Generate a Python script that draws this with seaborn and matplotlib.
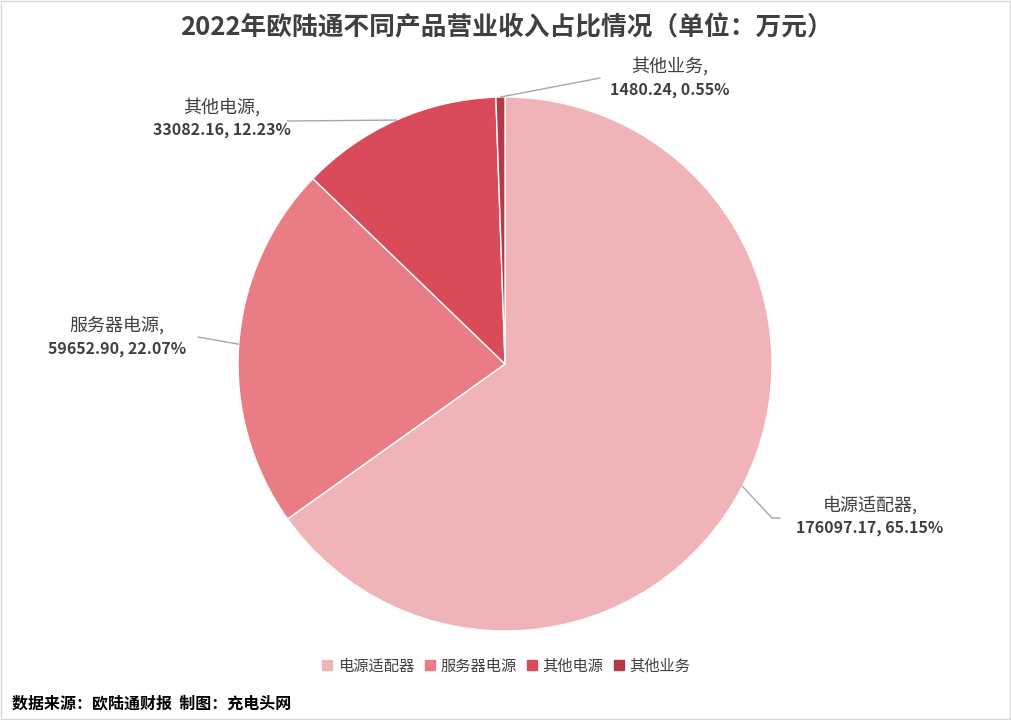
import numpy as np
import matplotlib.pyplot as plt
import matplotlib.patches as mpatches
from matplotlib.lines import Line2D
import seaborn as sns

sns.set_theme(style="white")
plt.rcParams['font.family'] = ['Noto Sans CJK SC', 'DejaVu Sans']

# data
products = ["电源适配器", "服务器电源", "其他电源", "其他业务"]
revenue = [176097.17, 59652.90, 33082.16, 1480.24]
percents = ["65.15%", "22.07%", "12.23%", "0.55%"]
colors = sns.color_palette(["#F0B4B8", "#E97C85", "#D94A5A", "#B33A48"])

fig = plt.figure(figsize=(10.12, 7.2), dpi=100)
ax = fig.add_axes([0.2352, 0.1236, 0.5277, 0.7417])

wedges, _ = ax.pie(revenue, colors=colors, startangle=90, counterclock=False,
                   radius=1, wedgeprops=dict(edgecolor="white", linewidth=1))
ax.set_xlim(-1, 1)
ax.set_ylim(-1, 1)
ax.set_aspect("equal")
ax.axis("off")

# label positions (text centre, line end, optional elbow)
label_pos = [
    ((1.367, -0.573), (1.03, -0.577), (1.00, -0.577)),
    ((-1.453, 0.101), (-1.15, 0.101), None),
    ((-1.06, 0.918), (-0.816, 0.910), None),
    ((0.618, 1.071), (0.356, 1.071), None),
]

for w, name, val, pct, (tpos, lend, elbow) in zip(wedges, products, revenue, percents, label_pos):
    ang = np.deg2rad((w.theta1 + w.theta2) / 2)
    x0, y0 = np.cos(ang), np.sin(ang)
    xs = [x0]
    ys = [y0]
    if elbow is not None:
        xs.append(elbow[0])
        ys.append(elbow[1])
    xs.append(lend[0])
    ys.append(lend[1])
    ax.plot(xs, ys, color="#A6A6A6", lw=1, clip_on=False)
    ax.text(tpos[0], tpos[1] + 0.043, name + ",", ha="center", va="center",
            fontsize=13, color="#404040", clip_on=False)
    ax.text(tpos[0], tpos[1] - 0.043, f"{val:.2f}, {pct}", ha="center", va="center",
            fontsize=11.5, fontweight="bold", color="#404040", clip_on=False)

fig.text(0.5, 0.962, "2022年欧陆通不同产品营业收入占比情况（单位：万元）", ha="center", va="center",
         fontsize=18.5, fontweight="bold", color="#404040")

handles = [Line2D([0], [0], marker="s", color="none", markerfacecolor=c, markeredgecolor=c,
                  markersize=7) for c in colors]
fig.legend(handles, products, loc="center", bbox_to_anchor=(0.5, 0.075), ncol=4, frameon=False,
           handlelength=0.8, handletextpad=0.3, columnspacing=0.6, fontsize=11,
           labelcolor="#404040")

fig.text(0.012, 0.023, "数据来源：欧陆通财报  制图：充电头网", ha="left", va="center",
         fontsize=11.5, fontweight="bold", color="#000000")

fig.patches.append(mpatches.Rectangle((0.001, 0.001), 0.997, 0.997, transform=fig.transFigure,
                                      fill=False, edgecolor="#D9D9D9", lw=1))

fig.savefig("out.png", dpi=100)
